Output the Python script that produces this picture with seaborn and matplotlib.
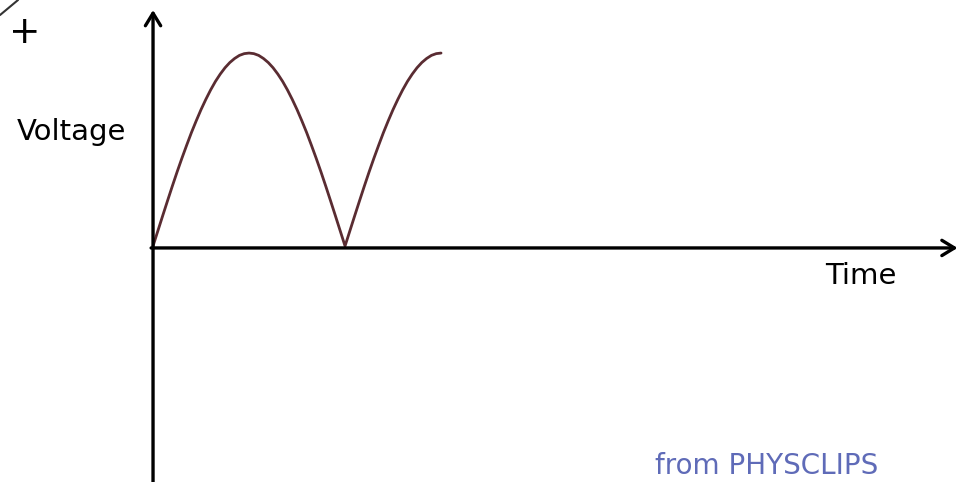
import matplotlib
matplotlib.use("Agg")
import matplotlib.pyplot as plt
import seaborn as sns
import pandas as pd

# full-wave rectified voltage (time in half-periods, voltage relative to peak)
time = [0.0, 0.025, 0.05, 0.075, 0.1, 0.125, 0.15, 0.175, 0.2, 0.225, 0.25,
        0.275, 0.3, 0.325, 0.35, 0.375, 0.4, 0.425, 0.45, 0.475, 0.5,
        0.525, 0.55, 0.575, 0.6, 0.625, 0.65, 0.675, 0.7, 0.725, 0.75,
        0.775, 0.8, 0.825, 0.85, 0.875, 0.9, 0.925, 0.95, 0.975, 1.0,
        1.025, 1.05, 1.075, 1.1, 1.125, 1.15, 1.175, 1.2, 1.225, 1.25,
        1.275, 1.3, 1.325, 1.35, 1.375, 1.4, 1.425, 1.45, 1.475, 1.5]
voltage = [0.0, 0.078, 0.156, 0.233, 0.309, 0.383, 0.454, 0.522, 0.588, 0.649, 0.707,
           0.760, 0.809, 0.853, 0.891, 0.924, 0.951, 0.972, 0.988, 0.997, 1.0,
           0.997, 0.988, 0.972, 0.951, 0.924, 0.891, 0.853, 0.809, 0.760, 0.707,
           0.649, 0.588, 0.522, 0.454, 0.383, 0.309, 0.233, 0.156, 0.078, 0.0,
           0.078, 0.156, 0.233, 0.309, 0.383, 0.454, 0.522, 0.588, 0.649, 0.707,
           0.760, 0.809, 0.853, 0.891, 0.924, 0.951, 0.972, 0.988, 0.997, 1.0]

x_label = "Time"
y_label = "Voltage"
credit = "from PHYSCLIPS"

sns.set_style("white")
plt.rcParams['font.family'] = ['DejaVu Sans']

fig = plt.figure(figsize=(9.66, 4.82), dpi=100)
ax = fig.add_axes([0, 0, 1, 1])
ax.set_xlim(-0.797, 4.234)
ax.set_ylim(-1.223, 1.275)
ax.axis("off")

df = pd.DataFrame({"t": time, "v": voltage})
sns.lineplot(data=df, x="t", y="v", ax=ax, color="#5a2c32", linewidth=2.0)

# axes drawn as arrows
arrow = dict(arrowstyle="->,head_length=0.9,head_width=0.55", color="black", lw=2.4,
             shrinkA=0, shrinkB=0)
ax.annotate("", xy=(0, 1.223), xytext=(0, -1.3), arrowprops=arrow)
ax.annotate("", xy=(4.19, -0.01), xytext=(-0.01, -0.01), arrowprops=arrow)

# fragment of another arrow in the corner
ax.plot([-0.797, -0.703], [1.197, 1.275], color="#333333", lw=1.5)

ax.text(-0.667, 1.105, "+", fontsize=27, ha="center", va="center", color="black")
ax.text(-0.71, 0.59, y_label, fontsize=21, ha="left", va="center", color="black")
ax.text(3.5, -0.155, x_label, fontsize=21, ha="left", va="center", color="black")
ax.text(2.615, -1.212, credit, fontsize=20, ha="left", va="bottom", color="#2a3aa0", alpha=0.75)

fig.savefig("out.png", dpi=100)
